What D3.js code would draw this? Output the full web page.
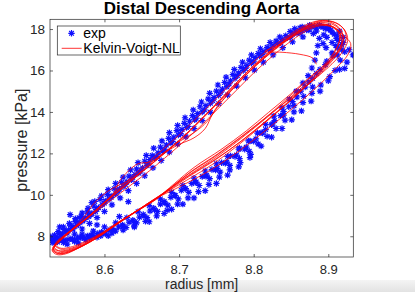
<!DOCTYPE html>
<html>
<head>
<meta charset="utf-8">
<script src="https://cdn.jsdelivr.net/npm/d3@7"></script>
<style>
  body { margin: 0; background: #fff; }
  svg { display: block; }
</style>
</head>
<body>
<div id="chart"></div>
<script>
"use strict";

// Axis ticks
var xTicks = [8.6, 8.7, 8.8, 8.9];
var yTicks = [8, 10, 12, 14, 16, 18];

// Measured samples, [radius mm, pressure kPa]
var expA = [[8.529,7.92],[8.534,7.98],[8.541,8.07],[8.549,8.22],[8.556,8.38],[8.563,8.52],[8.571,8.74],[8.579,8.95],[8.588,9.2],[8.597,9.52],[8.606,9.8],[8.615,10.05],[8.625,10.4],[8.636,10.72],[8.646,11.05],[8.657,11.42],[8.667,11.78],[8.678,12.1],[8.689,12.5],[8.699,12.88],[8.71,13.25],[8.721,13.62],[8.731,14.0],[8.742,14.42],[8.753,14.8],[8.764,15.22],[8.775,15.62],[8.786,16.0],[8.797,16.35],[8.808,16.7],[8.82,17.02],[8.832,17.3],[8.845,17.58],[8.858,17.8],[8.871,17.95],[8.884,18.05],[8.896,18.02],[8.905,17.85],
  [8.911,17.55],[8.91,17.2],[8.905,16.85],[8.898,16.45],[8.889,16.05],[8.879,15.62],[8.869,15.2],[8.858,14.72],[8.847,14.25],[8.836,13.82],[8.824,13.38],[8.812,12.98],[8.8,12.58],[8.788,12.2],[8.775,11.85],[8.762,11.52],[8.749,11.2],[8.736,10.9],[8.722,10.6],[8.708,10.3],[8.694,9.98],[8.68,9.68],[8.666,9.35],[8.652,9.05],[8.638,8.78],[8.624,8.55],[8.61,8.36],[8.596,8.2],[8.582,8.06],[8.568,7.96],[8.555,7.88],[8.543,7.84]];
var expB = [[8.531,7.8],[8.537,7.9],[8.544,8.12],[8.552,8.3],[8.559,8.47],[8.567,8.68],[8.575,8.9],[8.583,9.1],[8.592,9.38],[8.601,9.7],[8.61,9.95],[8.62,10.28],[8.63,10.62],[8.641,10.98],[8.651,11.3],[8.661,11.7],[8.672,12.02],[8.683,12.4],[8.693,12.78],[8.704,13.15],[8.714,13.55],[8.725,13.92],[8.736,14.3],[8.747,14.7],[8.758,15.1],[8.769,15.5],[8.78,15.88],[8.791,16.25],[8.802,16.62],[8.814,16.92],[8.826,17.22],[8.839,17.5],[8.852,17.75],[8.865,17.92],[8.878,18.1],[8.89,18.12],[8.9,18.0],[8.908,17.75],
  [8.913,17.45],[8.912,17.1],[8.906,16.7],[8.896,16.28],[8.884,15.85],[8.874,15.45],[8.863,15.0],[8.852,14.5],[8.84,14.02],[8.828,13.58],[8.816,13.15],[8.803,12.7],[8.79,12.3],[8.777,11.92],[8.764,11.58],[8.751,11.28],[8.737,10.95],[8.723,10.62],[8.709,10.3],[8.695,9.96],[8.681,9.6],[8.667,9.28],[8.653,8.98],[8.639,8.72],[8.625,8.5],[8.611,8.3],[8.597,8.15],[8.583,8.02],[8.57,7.93],[8.557,7.86],[8.545,7.8],[8.535,7.76]];
var expC = [[8.528,7.98],[8.533,8.05],[8.539,8.15],[8.546,8.32],[8.554,8.55],[8.561,8.72],[8.569,8.95],[8.577,9.18],[8.586,9.45],[8.594,9.78],[8.604,10.02],[8.613,10.3],[8.623,10.6],[8.633,10.9],[8.643,11.25],[8.654,11.62],[8.664,11.9],[8.675,12.3],[8.686,12.72],[8.697,13.1],[8.707,13.45],[8.718,13.82],[8.728,14.25],[8.739,14.62],[8.75,15.0],[8.761,15.42],[8.772,15.8],[8.783,16.15],[8.794,16.5],[8.806,16.82],[8.818,17.12],[8.83,17.42],[8.843,17.68],[8.856,17.9],[8.869,18.05],[8.882,18.12],[8.893,18.1],[8.903,17.95],[8.912,17.7],
  [8.92,17.35],[8.928,17.0],[8.933,16.75],[8.925,16.4],[8.915,16.05],[8.902,15.7],[8.89,15.3],[8.878,14.9],[8.866,14.45],[8.854,14.0],[8.842,13.6],[8.83,13.2],[8.818,12.82],[8.806,12.45],[8.794,12.1],[8.781,11.75],[8.768,11.42],[8.755,11.1],[8.741,10.78],[8.727,10.45],[8.713,10.12],[8.699,9.8],[8.685,9.5],[8.671,9.2],[8.657,8.9],[8.643,8.65],[8.629,8.42],[8.615,8.25],[8.601,8.12],[8.587,8.0],[8.573,7.9],[8.56,7.82],[8.547,7.76],[8.537,7.72]];
var expD = [[8.53,7.7],[8.536,7.82],[8.542,7.98],[8.55,8.15],[8.558,8.35],[8.565,8.58],[8.573,8.82],[8.582,9.05],[8.59,9.3],[8.6,9.6],[8.609,9.88],[8.618,10.18],[8.628,10.5],[8.638,10.85],[8.649,11.18],[8.659,11.5],[8.67,11.85],[8.681,12.2],[8.691,12.58],[8.702,12.95],[8.712,13.3],[8.723,13.7],[8.734,14.1],[8.745,14.55],[8.756,14.95],[8.767,15.35],[8.778,15.75],[8.789,16.1],[8.8,16.45],[8.811,16.78],[8.823,17.05],[8.836,17.35],[8.849,17.6],[8.862,17.82],[8.874,17.95],[8.884,17.9],[8.888,17.55],[8.886,17.2],[8.884,16.85],[8.882,16.5],[8.878,16.12],[8.873,15.75],
  [8.866,15.4],[8.857,15.0],[8.848,14.62],[8.838,14.2],[8.827,13.8],[8.816,13.4],[8.805,12.98],[8.793,12.6],[8.781,12.25],[8.769,11.88],[8.757,11.55],[8.744,11.22],[8.731,10.88],[8.717,10.55],[8.703,10.22],[8.689,9.88],[8.675,9.55],[8.661,9.22],[8.647,8.92],[8.633,8.68],[8.619,8.45],[8.605,8.28],[8.591,8.14],[8.577,8.02],[8.564,7.92],[8.551,7.85],[8.54,7.8]];
var expE = [[8.545,8.45],[8.553,8.62],[8.561,8.85],[8.57,9.12],[8.578,9.35],[8.587,9.68],[8.596,9.95],[8.605,10.25],[8.615,10.55],[8.625,10.85],[8.635,11.2],[8.645,11.55],[8.656,11.9],[8.666,12.25],[8.677,12.6],[8.687,13.0],[8.698,13.35],[8.708,13.72],[8.719,14.1],[8.73,14.48],[8.741,14.9],[8.752,15.3],[8.763,15.68],[8.774,16.05],[8.785,16.4],[8.797,16.75],[8.809,17.05],[8.822,17.35],[8.835,17.62],[8.849,17.88],[8.862,18.05]];
var expF = [[8.56,8.1],[8.57,8.35],[8.58,8.62],[8.59,8.9],[8.6,9.2],[8.61,9.52],[8.621,9.85],[8.632,10.2],[8.643,10.55],[8.654,10.92],[8.665,11.3],[8.676,11.66],[8.687,12.06],[8.698,12.45],[8.709,12.8],[8.72,13.2],[8.731,13.58],[8.742,13.98],[8.753,14.4],[8.765,14.82],[8.777,15.25],[8.789,15.65],[8.801,16.02],[8.813,16.4],[8.826,16.75],[8.839,17.1],[8.852,17.38],[8.866,17.62],[8.88,17.78],[8.894,17.72]];
var expG = [[8.58,7.92],[8.595,8.02],[8.61,8.15],[8.625,8.3],[8.64,8.5],[8.655,8.72],[8.67,8.98],[8.684,9.25],[8.698,9.55],[8.712,9.85],[8.726,10.15],[8.74,10.5],[8.754,10.85],[8.768,11.2],[8.782,11.55],[8.796,11.95],[8.81,12.35],[8.824,12.78],[8.838,13.2],[8.851,13.62],[8.864,14.05],[8.877,14.52],[8.889,15.0],[8.9,15.5],[8.909,16.0],[8.916,16.5],[8.918,17.0]];
var expH = [[8.57,8.1],[8.585,8.25],[8.6,8.45],[8.615,8.65],[8.63,8.9],[8.645,9.18],[8.66,9.48],[8.675,9.8],[8.69,10.12],[8.705,10.45],[8.72,10.8],[8.735,11.15],[8.75,11.5],[8.765,11.85],[8.78,12.2],[8.795,12.6],[8.81,13.0],[8.825,13.42],[8.84,13.85],[8.854,14.3],[8.867,14.75],[8.879,15.2]];
var expExtra = [[8.554,9.04],[8.583,9.62],[8.632,9.67],[8.566,8.9],[8.54,8.45],[8.59,8.55],[8.62,8.95],[8.705,9.55],[8.72,9.85],[8.69,9.3],[8.735,10.2],[8.75,10.55],[8.765,10.95],[8.68,9.1],[8.66,8.7],[8.64,8.45],[8.78,11.35],[8.795,11.8],
  [8.875,18.18],[8.9,18.12],[8.915,17.9],[8.92,17.6],[8.905,17.35],[8.897,17.1],[8.922,16.9],[8.922,16.1],[8.935,16.75],[8.545,7.7],[8.56,7.75],[8.575,7.82],[8.59,7.95],[8.605,8.02],
  [8.855,18.02],[8.865,18.1],[8.888,18.18],[8.898,17.6],[8.893,17.3],[8.912,16.75],[8.918,17.25],[8.527,7.88],[8.532,7.72],[8.538,8.22],[8.55,7.62],[8.565,7.68]];

// Kelvin-Voigt-NL model, one array per cycle
var kv1 = [[8.884,16.3],[8.879,16.6],[8.862,16.78],[8.838,16.88],[8.815,16.92],[8.832,17.2],[8.852,17.62],[8.872,18.02],[8.89,18.22],[8.906,18.12],[8.916,17.8],[8.914,17.3],[8.903,16.55],[8.886,15.8],[8.864,15.05],[8.839,14.22],[8.81,13.32],[8.78,12.42],[8.746,11.5],[8.71,10.7],[8.668,9.82],[8.64,9.15],[8.614,8.52],[8.59,7.92],[8.57,7.52],[8.552,7.28],[8.538,7.22],[8.531,7.4]];
var kv2 = [[8.534,7.62],[8.546,8.0],[8.561,8.42],[8.58,8.98],[8.6,9.65],[8.619,10.3],[8.638,10.92],[8.658,11.55],[8.678,12.18],[8.699,12.85],[8.724,13.72],[8.749,14.62],[8.774,15.52],[8.799,16.4],[8.824,17.12],[8.849,17.75],[8.87,18.2],[8.888,18.4],[8.905,18.3],[8.917,17.95],[8.92,17.45],[8.912,16.8],[8.896,16.1],[8.874,15.35],[8.848,14.5],[8.816,13.55],[8.784,12.62],[8.75,11.72],[8.714,10.9],[8.668,9.78],[8.642,9.2],[8.617,8.6],[8.592,7.98],[8.572,7.55],[8.553,7.25],[8.539,7.15],[8.532,7.3]];
var kv3 = [[8.533,7.5],[8.544,7.92],[8.558,8.38],[8.577,8.92],[8.596,9.5],[8.612,10.05],[8.62,10.65],[8.632,11.15],[8.645,11.5],[8.662,11.6],[8.68,12.05],[8.702,12.7],[8.726,13.52],[8.751,14.45],[8.776,15.38],[8.801,16.28],[8.826,17.05],[8.851,17.72],[8.873,18.18],[8.892,18.42],[8.91,18.3],[8.922,17.95],[8.926,17.45],[8.918,16.85],[8.9,16.15],[8.877,15.45],[8.85,14.68],[8.818,13.78],[8.786,12.88],[8.752,11.98],[8.716,11.12],[8.668,9.76],[8.638,9.1],[8.612,8.45],[8.588,7.88],[8.567,7.48],[8.55,7.22],[8.537,7.18],[8.53,7.35]];
var kv4 = [[8.532,7.45],[8.543,7.85],[8.557,8.3],[8.575,8.85],[8.594,9.45],[8.614,10.08],[8.634,10.68],[8.654,11.3],[8.675,11.9],[8.698,12.4],[8.72,12.75],[8.735,13.2],[8.745,13.9],[8.77,15.05],[8.796,16.0],[8.822,16.82],[8.847,17.5],[8.869,17.98],[8.889,18.2],[8.906,18.1],[8.918,17.75],[8.93,17.3],[8.926,16.75],[8.91,16.1],[8.89,15.38],[8.866,14.6],[8.838,13.75],[8.806,12.82],[8.774,11.95],[8.74,11.15],[8.704,10.45],[8.668,9.8],[8.645,9.25],[8.62,8.7],[8.596,8.1],[8.575,7.65],[8.556,7.35],[8.541,7.28],[8.533,7.45]];
var kv5 = [[8.535,7.7],[8.547,8.08],[8.563,8.5],[8.582,9.0],[8.602,9.55],[8.622,10.1],[8.64,10.6],[8.66,11.15],[8.68,11.75],[8.701,12.4],[8.727,13.25],[8.752,14.15],[8.777,15.05],[8.802,15.95],[8.827,16.75],[8.851,17.45],[8.871,17.92],[8.888,18.15],[8.903,18.12],[8.913,17.85],[8.915,17.45],[8.907,16.85],[8.891,16.15],[8.868,15.4],[8.842,14.55],[8.812,13.6],[8.781,12.72],[8.748,11.85],[8.712,11.0],[8.668,9.75],[8.643,9.22],[8.62,8.72],[8.597,8.18],[8.576,7.78],[8.557,7.5],[8.542,7.42],[8.534,7.55]];
var kv6 = [[8.533,7.55],[8.545,7.98],[8.56,8.45],[8.574,9.0],[8.585,9.55],[8.598,10.0],[8.61,10.3],[8.625,10.55],[8.64,10.85],[8.657,11.3],[8.677,11.9],[8.698,12.55],[8.722,13.38],[8.747,14.28],[8.772,15.22],[8.797,16.12],[8.822,16.9],[8.846,17.55],[8.868,18.02],[8.886,18.25],[8.902,18.18],[8.914,17.88],[8.918,17.4],[8.91,16.78],[8.893,16.05],[8.871,15.3],[8.845,14.45],[8.814,13.48],[8.782,12.55],[8.747,11.68],[8.71,10.85],[8.668,9.82],[8.641,9.18],[8.616,8.58],[8.592,8.0],[8.571,7.6],[8.552,7.35],[8.538,7.3],[8.531,7.45]];
var kv7 = [[8.534,7.6],[8.546,8.02],[8.562,8.48],[8.581,9.02],[8.601,9.62],[8.621,10.22],[8.641,10.82],[8.661,11.42],[8.681,12.02],[8.703,12.68],[8.728,13.55],[8.754,14.5],[8.779,15.42],[8.804,16.3],[8.829,17.05],[8.853,17.7],[8.874,18.15],[8.893,18.38],[8.91,18.3],[8.921,17.98],[8.924,17.5],[8.915,16.95],[8.898,16.35],[8.876,15.7],[8.85,14.88],[8.82,13.98],[8.79,13.08],[8.756,12.18],[8.72,11.32],[8.668,9.78],[8.64,9.12],[8.613,8.5],[8.588,7.9],[8.566,7.45],[8.548,7.15],[8.536,7.12],[8.53,7.3]];
var kv8 = [[8.533,7.5],[8.544,7.9],[8.559,8.35],[8.578,8.9],[8.597,9.52],[8.617,10.12],[8.637,10.72],[8.657,11.32],[8.677,11.92],[8.697,12.5],[8.72,13.0],[8.738,13.55],[8.752,14.3],[8.776,15.25],[8.8,16.15],[8.824,16.92],[8.848,17.6],[8.869,18.08],[8.887,18.3],[8.904,18.25],[8.916,17.95],[8.92,17.5],[8.912,16.9],[8.895,16.2],[8.872,15.42],[8.846,14.6],[8.815,13.65],[8.783,12.72],[8.749,11.8],[8.713,10.95],[8.668,9.8],[8.642,9.2],[8.618,8.65],[8.594,8.08],[8.573,7.68],[8.555,7.42],[8.541,7.38],[8.534,7.52]];

var expPoints = [].concat(expA, expB, expC, expD, expE, expF, expG, expH, expExtra);
var kvPoints = [].concat(kv1, kv2, kv3, kv4, kv5, kv6, kv7, kv8);

var W = 415, H = 292;
var font = "'Liberation Sans', Arial, Helvetica, sans-serif";
var axisColor = "#262626";

var svg = d3.select("#chart").append("svg")
  .attr("width", W)
  .attr("height", H);

// Light gray strip along the bottom of the screenshot
var grad = svg.append("defs").append("linearGradient")
  .attr("id", "strip").attr("x1", 0).attr("y1", 0).attr("x2", 0).attr("y2", 1);
grad.append("stop").attr("offset", "0%").attr("stop-color", "#f4f4f4");
grad.append("stop").attr("offset", "100%").attr("stop-color", "#e2e2e2");
svg.append("rect")
  .attr("x", 0).attr("y", 280)
  .attr("width", W).attr("height", H - 280)
  .style("fill", "url(#strip)");

var x = d3.scaleLinear().domain([8.527, 8.9335]).range([50, 353.3]);
var y = d3.scaleLinear().domain([7.0, 18.47]).range([257, 19.3]);

var plot = svg.append("g");
plot.append("clipPath").attr("id", "clip")
  .append("rect")
  .attr("x", x.range()[0]).attr("y", y.range()[1])
  .attr("width", x.range()[1] - x.range()[0])
  .attr("height", y.range()[0] - y.range()[1]);

// Asterisk marker, + and x on top of each other
function star(cx, cy, r) {
  var d = r * 0.72;
  return "M" + (cx - r) + "," + cy + "H" + (cx + r) +
    "M" + cx + "," + (cy - r) + "V" + (cy + r) +
    "M" + (cx - d) + "," + (cy - d) + "L" + (cx + d) + "," + (cy + d) +
    "M" + (cx - d) + "," + (cy + d) + "L" + (cx + d) + "," + (cy - d);
}

plot.append("g")
  .attr("clip-path", "url(#clip)")
  .selectAll("path")
  .data(expPoints)
  .enter().append("path")
  .attr("d", function(p) { return star(x(p[0]), y(p[1]), 3.2); })
  .style("stroke", "#1010ff")
  .style("stroke-width", 1.2)
  .style("fill", "none");

var line = d3.line()
  .x(function(p) { return x(p[0]); })
  .y(function(p) { return y(p[1]); })
  .curve(d3.curveCatmullRom.alpha(0.5));

plot.append("path")
  .attr("clip-path", "url(#clip)")
  .attr("d", line(kvPoints))
  .style("fill", "none")
  .style("stroke", "#ff0000")
  .style("stroke-width", 0.8);

// Axes, ticks pointing inward on all four sides
function styleAxis(g) {
  g.selectAll(".domain").remove();
  g.selectAll("line").style("stroke", axisColor).style("stroke-width", 0.7);
  g.selectAll("text")
    .attr("font-family", font)
    .attr("font-size", "13.5px")
    .attr("fill", axisColor);
}

svg.append("g")
  .attr("transform", "translate(0," + y.range()[0] + ")")
  .call(d3.axisBottom(x).tickValues(xTicks).tickFormat(d3.format(".1f"))
    .tickSizeInner(-3).tickSizeOuter(0).tickPadding(7.5))
  .call(styleAxis)
  .selectAll("text").attr("font-size", "13px");
svg.append("g")
  .attr("transform", "translate(0," + y.range()[1] + ")")
  .call(d3.axisTop(x).tickValues(xTicks).tickFormat("")
    .tickSizeInner(-3).tickSizeOuter(0))
  .call(styleAxis);
svg.append("g")
  .attr("transform", "translate(" + x.range()[0] + ",0)")
  .call(d3.axisLeft(y).tickValues(yTicks)
    .tickSizeInner(-3).tickSizeOuter(0).tickPadding(5))
  .call(styleAxis);
svg.append("g")
  .attr("transform", "translate(" + x.range()[1] + ",0)")
  .call(d3.axisRight(y).tickValues(yTicks).tickFormat("")
    .tickSizeInner(-3).tickSizeOuter(0))
  .call(styleAxis);

// Box
svg.append("rect")
  .attr("x", x.range()[0]).attr("y", y.range()[1])
  .attr("width", x.range()[1] - x.range()[0])
  .attr("height", y.range()[0] - y.range()[1])
  .style("fill", "none")
  .style("stroke", axisColor)
  .style("stroke-width", 0.7);

// Title and axis labels
svg.append("text")
  .attr("x", (x.range()[0] + x.range()[1]) / 2)
  .attr("y", 13.5)
  .attr("text-anchor", "middle")
  .attr("font-family", font)
  .attr("font-size", "17px")
  .attr("font-weight", "bold")
  .attr("fill", "#000")
  .text("Distal Descending Aorta");

svg.append("text")
  .attr("x", (x.range()[0] + x.range()[1]) / 2)
  .attr("y", 289)
  .attr("text-anchor", "middle")
  .attr("font-family", font)
  .attr("font-size", "14px")
  .attr("fill", axisColor)
  .text("radius [mm]");

svg.append("text")
  .attr("transform", "translate(27," + ((y.range()[0] + y.range()[1]) / 2 + 2) + ") rotate(-90)")
  .attr("text-anchor", "middle")
  .attr("font-family", font)
  .attr("font-size", "16px")
  .attr("fill", axisColor)
  .text("pressure [kPa]");

// Legend
var lg = svg.append("g");
lg.append("rect")
  .attr("x", 57.3).attr("y", 26)
  .attr("width", 123).attr("height", 29)
  .style("fill", "#fff")
  .style("stroke", axisColor)
  .style("stroke-width", 0.7);
lg.append("path")
  .attr("d", star(71.5, 33.3, 3.2))
  .style("stroke", "#1010ff")
  .style("stroke-width", 1.2)
  .style("fill", "none");
lg.append("line")
  .attr("x1", 61.7).attr("x2", 81.7)
  .attr("y1", 48.3).attr("y2", 48.3)
  .style("stroke", "#ff0000")
  .style("stroke-width", 0.8);
lg.append("text")
  .attr("x", 83.3).attr("y", 37.8)
  .attr("font-family", font).attr("font-size", "14px")
  .attr("fill", "#000")
  .text("exp");
lg.append("text")
  .attr("x", 83.3).attr("y", 53.3)
  .attr("font-family", font).attr("font-size", "14px")
  .attr("fill", "#000")
  .text("Kelvin-Voigt-NL");
</script>
</body>
</html>
